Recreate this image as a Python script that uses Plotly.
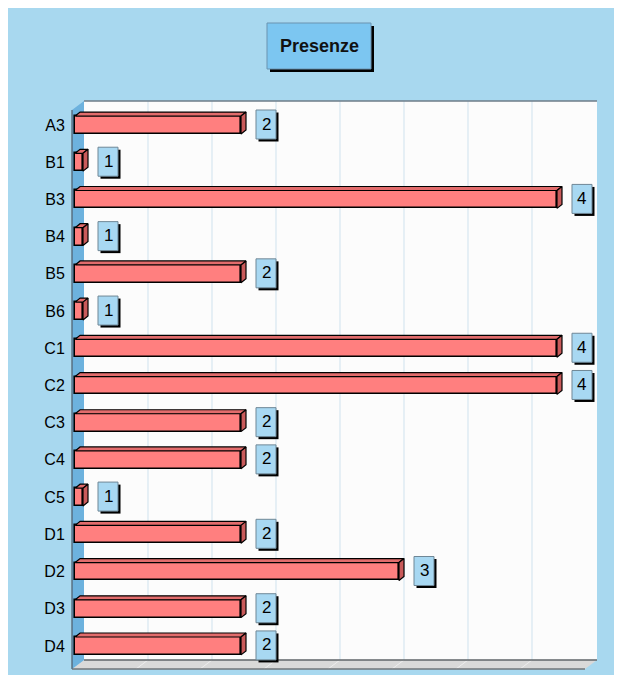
import plotly.graph_objects as go

# Attendance counts per group
groups = ["A3", "B1", "B3", "B4", "B5", "B6", "C1", "C2", "C3", "C4", "C5", "D1", "D2", "D3", "D4"]
presenze = [2, 1, 4, 1, 2, 1, 4, 4, 2, 2, 1, 2, 3, 2, 2]

# Figure geometry (pixels)
W, H = 622, 682
PL, PR, PT, PB = 72, 597, 101, 669          # plot box incl. 3D depth
X_RANGE = [0.9304, 4.2532]                   # value axis
Y_RANGE = [14.62, -0.645]                    # category index axis (reversed)
BAR_BASE = 0.95
BAR_W = 0.48
DX = 5 / 158.0                               # 3D depth in value units
DY = 4 / 37.21                               # 3D depth in category units

BG = "#a8d8ef"
FRONT = "#ff7f7f"
TOP = "#e26c6c"
SIDE = "#c95a5a"
LABEL_BG = "#a8d8f2"
FONT = "Liberation Sans, Arial, sans-serif"


def fx(x):
    return (x - PL) / (PR - PL)


def fy(y):
    return 1 - (y - PT) / (PB - PT)


idx = list(range(len(groups)))
fig = go.Figure()

# front faces of the bars
fig.add_trace(go.Bar(
    y=idx, x=[v - BAR_BASE for v in presenze], base=BAR_BASE,
    orientation="h", width=BAR_W,
    marker=dict(color=FRONT, line=dict(color="black", width=1.6)),
    hoverinfo="skip", showlegend=False,
))

# top and side faces (extruded depth)
tx, ty, sx, sy = [], [], [], []
for i, v in zip(idx, presenze):
    y_top = i - BAR_W / 2
    y_bot = i + BAR_W / 2
    tx += [BAR_BASE, v, v + DX, BAR_BASE + DX, BAR_BASE, None]
    ty += [y_top, y_top, y_top - DY, y_top - DY, y_top, None]
    sx += [v, v + DX, v + DX, v, v, None]
    sy += [y_top, y_top - DY, y_bot - DY, y_bot, y_top, None]

fig.add_trace(go.Scatter(x=tx, y=ty, mode="lines", fill="toself", fillcolor=TOP,
                         line=dict(color="black", width=1.2), hoverinfo="skip",
                         showlegend=False))
fig.add_trace(go.Scatter(x=sx, y=sy, mode="lines", fill="toself", fillcolor=SIDE,
                         line=dict(color="black", width=1.2), hoverinfo="skip",
                         showlegend=False))

shapes = []
annotations = []

# value labels: boxed, with drop shadow, anchored at each bar's end
for i, v in zip(idx, presenze):
    anchor = dict(type="rect", xref="x", yref="y", xsizemode="pixel",
                  ysizemode="pixel", xanchor=v, yanchor=i, layer="above")
    shapes.append(dict(anchor, x0=17.5, x1=37.5, y0=-16.5, y1=12.5,
                       fillcolor="black", line=dict(width=0)))
    shapes.append(dict(anchor, x0=15, x1=35, y0=-14, y1=15,
                       fillcolor=LABEL_BG, line=dict(color="#6f8796", width=1)))
    annotations.append(dict(x=v, y=i, xref="x", yref="y", text=str(v),
                            showarrow=False, xanchor="center", yanchor="middle",
                            xshift=25, yshift=1,
                            font=dict(family=FONT, size=17, color="black")))

# title box
shapes.append(dict(type="rect", xref="paper", yref="paper", layer="above",
                   x0=fx(270), x1=fx(374), y0=fy(26), y1=fy(72),
                   fillcolor="black", line=dict(width=0)))
shapes.append(dict(type="rect", xref="paper", yref="paper", layer="above",
                   x0=fx(267), x1=fx(371), y0=fy(23), y1=fy(69),
                   fillcolor="#7cc6f1", line=dict(color="#6a93b0", width=1)))
annotations.append(dict(x=fx(319), y=fy(46), xref="paper", yref="paper",
                        text="<b>Presenze</b>", showarrow=False,
                        xanchor="center", yanchor="middle",
                        font=dict(family=FONT, size=18, color="#111111")))

# outer panel
shapes.append(dict(type="rect", xref="paper", yref="paper", layer="below",
                   x0=fx(8), x1=fx(614), y0=fy(8), y1=fy(675),
                   fillcolor=BG, line=dict(width=0)))
# back wall
shapes.append(dict(type="rect", xref="paper", yref="paper", layer="below",
                   x0=fx(84), x1=fx(597), y0=fy(101), y1=fy(660),
                   fillcolor="#fcfcfc", line=dict(width=0)))
# grid on the back wall
for k in range(1, 8):
    gx = 84 + 64 * k
    shapes.append(dict(type="line", xref="paper", yref="paper", layer="below",
                       x0=fx(gx), x1=fx(gx), y0=fy(101), y1=fy(660),
                       line=dict(color="#cfe2ee", width=1)))
# floor
shapes.append(dict(type="path", xref="paper", yref="paper", layer="below",
                   path=f"M {fx(72)},{fy(669)} L {fx(84)},{fy(660)} L {fx(597)},{fy(660)} "
                        f"L {fx(585)},{fy(669)} Z",
                   fillcolor="#d9d9d9", line=dict(width=0)))
for k in range(1, 8):
    gx = 84 + 64 * k
    shapes.append(dict(type="line", xref="paper", yref="paper", layer="below",
                       x0=fx(gx), x1=fx(gx - 12), y0=fy(660), y1=fy(669),
                       line=dict(color="#eeeeee", width=1)))
shapes.append(dict(type="line", xref="paper", yref="paper", layer="below",
                   x0=fx(84), x1=fx(597), y0=fy(660), y1=fy(660),
                   line=dict(color="#5f6468", width=1.5)))
shapes.append(dict(type="line", xref="paper", yref="paper", layer="below",
                   x0=fx(72), x1=fx(585), y0=fy(669), y1=fy(669),
                   line=dict(color="#6f7478", width=1.5)))
# top edge of back wall
shapes.append(dict(type="line", xref="paper", yref="paper", layer="below",
                   x0=fx(84), x1=fx(597), y0=fy(101), y1=fy(101),
                   line=dict(color="#6e7c88", width=1.5)))
# left side wall
shapes.append(dict(type="path", xref="paper", yref="paper", layer="below",
                   path=f"M {fx(72)},{fy(110)} L {fx(84)},{fy(101)} L {fx(84)},{fy(660)} "
                        f"L {fx(72)},{fy(669)} Z",
                   fillcolor="#6db2de", line=dict(width=0)))
shapes.append(dict(type="line", xref="paper", yref="paper", layer="below",
                   x0=fx(72), x1=fx(72), y0=fy(110), y1=fy(669),
                   line=dict(color="#4d5c68", width=1.2)))

fig.update_layout(
    width=W, height=H,
    margin=dict(l=PL, r=W - PR, t=PT, b=H - PB, pad=0),
    paper_bgcolor="white", plot_bgcolor="rgba(0,0,0,0)",
    bargap=0, showlegend=False,
    shapes=shapes, annotations=annotations,
    xaxis=dict(range=X_RANGE, showgrid=False, zeroline=False, showticklabels=False,
               showline=False, ticks="", fixedrange=True),
    yaxis=dict(range=Y_RANGE, tickmode="array", tickvals=idx, ticktext=groups,
               showgrid=False, zeroline=False, showline=False,
               ticks="outside", ticklen=3, tickcolor="rgba(0,0,0,0)",
               tickfont=dict(family=FONT, size=16, color="black"), fixedrange=True),
)

fig.write_html("out.html")
